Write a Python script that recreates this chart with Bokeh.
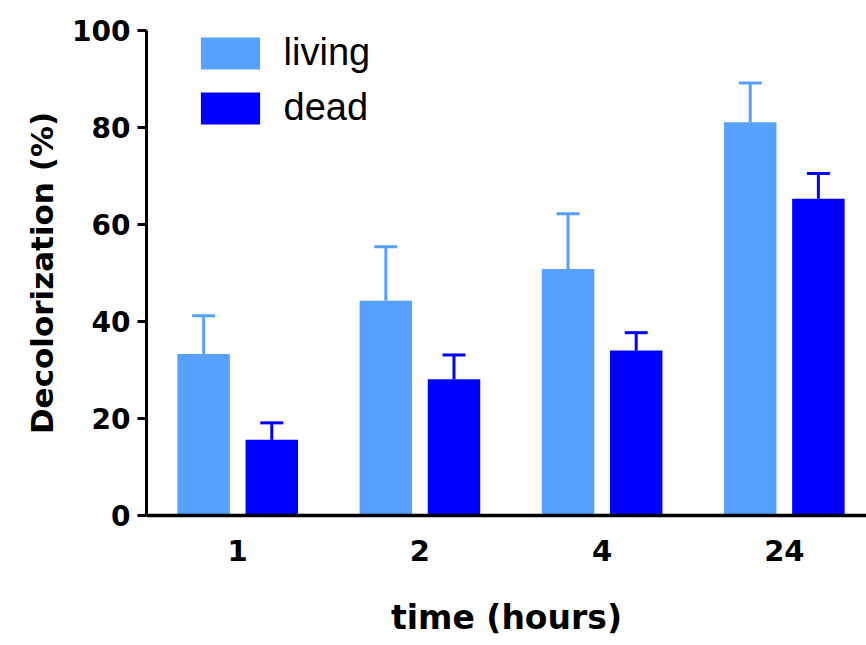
import numpy as np
from bokeh.plotting import figure
from bokeh.models import (ColumnDataSource, Range1d, FixedTicker, Whisker, TeeHead,
                          Legend, LegendItem)
from bokeh.transform import dodge
from bokeh.embed import file_html
from bokeh.resources import INLINE

# ---- data ----
times = ["1", "2", "4", "24"]
living = [33.3, 44.3, 50.8, 81.1]
living_err = [7.9, 11.1, 11.4, 8.1]
dead = [15.6, 28.1, 34.0, 65.3]
dead_err = [3.5, 5.0, 3.7, 5.2]
yticks = [0, 20, 40, 60, 80, 100]

LIVING_COLOR = "#56A0FF"
DEAD_COLOR = "#0000FF"
AX_FONT = "DejaVu Sans"

pos = list(range(len(times)))
src = ColumnDataSource(dict(
    x=pos,
    living=living,
    dead=dead,
    living_top=[v + e for v, e in zip(living, living_err)],
    dead_top=[v + e for v, e in zip(dead, dead_err)],
))

p = figure(width=866, height=645, output_backend="svg", toolbar_location=None,
           x_range=Range1d(-0.5006, 3.451), y_range=Range1d(0, 100),
           min_border_left=146, min_border_right=0, min_border_top=30,
           min_border_bottom=130)
p.outline_line_color = None
p.grid.visible = False
p.background_fill_color = "white"

OFF = 0.187
W = 0.288

r_l = p.vbar(x=dodge("x", -OFF, range=p.x_range), width=W, top="living", bottom=0,
             source=src, fill_color=LIVING_COLOR, line_color=None)
r_d = p.vbar(x=dodge("x", OFF, range=p.x_range), width=W, top="dead", bottom=0,
             source=src, fill_color=DEAD_COLOR, line_color=None)

for col_lo, col_hi, off, color in [("living", "living_top", -OFF, LIVING_COLOR),
                                   ("dead", "dead_top", OFF, DEAD_COLOR)]:
    w = Whisker(source=src, base=dodge("x", off, range=p.x_range),
                lower=col_lo, upper=col_hi, dimension="height",
                line_color=color, line_width=3,
                upper_head=TeeHead(size=23, line_width=3, line_color=color),
                lower_head=None)
    p.add_layout(w)

# axes
p.xaxis.ticker = FixedTicker(ticks=pos)
p.xaxis.major_label_overrides = {i: t for i, t in enumerate(times)}
p.xaxis.major_tick_line_color = None
p.xaxis.minor_tick_line_color = None
p.xaxis.major_tick_out = 0
p.xaxis.major_tick_in = 0
p.xaxis.axis_line_width = 3.5
p.xaxis.axis_line_color = "black"
p.xaxis.major_label_standoff = 24
p.xaxis.axis_label = "time (hours)"
p.xaxis.axis_label_standoff = 34

p.yaxis.ticker = FixedTicker(ticks=yticks)
p.yaxis.minor_tick_line_color = None
p.yaxis.major_tick_out = 9
p.yaxis.major_tick_in = 0
p.yaxis.major_tick_line_width = 3
p.yaxis.major_tick_line_color = "black"
p.yaxis.axis_line_width = 3
p.yaxis.axis_line_color = "black"
p.yaxis.major_label_standoff = 7
p.yaxis.axis_label = "Decolorization (%)"
p.yaxis.axis_label_standoff = 9

for ax in (p.xaxis, p.yaxis):
    ax.major_label_text_font = AX_FONT
    ax.major_label_text_font_style = "bold"
    ax.major_label_text_color = "black"
    ax.axis_label_text_font = AX_FONT
    ax.axis_label_text_font_style = "bold"
    ax.axis_label_text_color = "black"
p.yaxis.major_label_text_font_size = "28px"
p.xaxis.major_label_text_font_size = "29px"
p.xaxis.axis_label_text_font_size = "33px"
p.yaxis.axis_label_text_font_size = "31px"

legend = Legend(items=[LegendItem(label="living", renderers=[r_l]),
                       LegendItem(label="dead", renderers=[r_d])],
                location=(46.6, 386), glyph_width=74, glyph_height=40,
                label_standoff=17, spacing=12, padding=0, margin=0,
                border_line_alpha=0, background_fill_alpha=0,
                label_text_font="Liberation Sans", label_text_font_size="38px",
                label_height=32, label_text_color="black")
p.add_layout(legend)

open("out.html", "w").write(file_html(p, INLINE))
